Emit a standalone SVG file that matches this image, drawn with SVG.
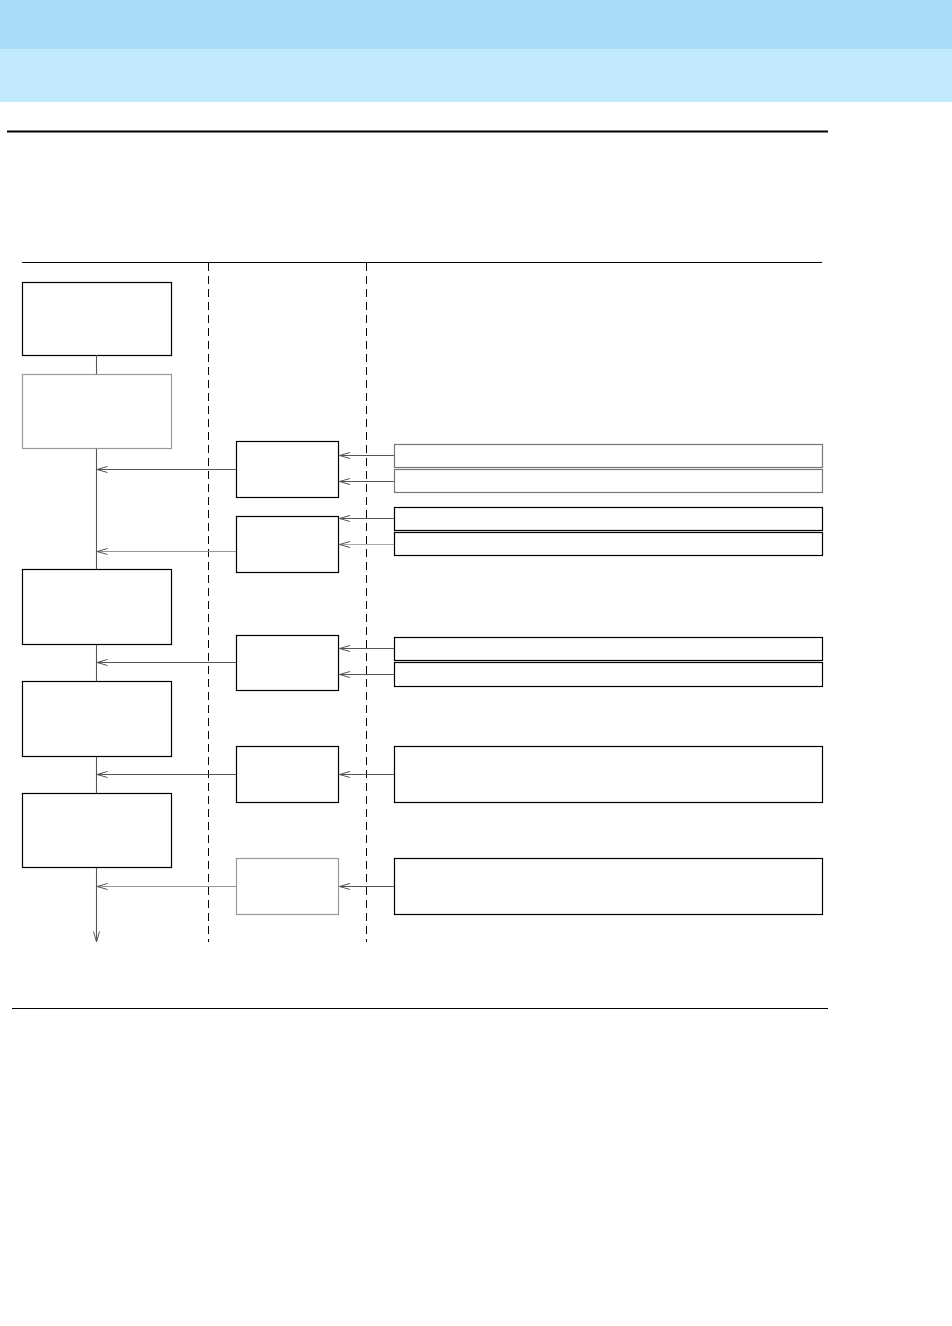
<svg xmlns="http://www.w3.org/2000/svg" width="952" height="1326" viewBox="0 0 952 1326">
<style>
.box{fill:#fff;stroke:#000;stroke-width:1.2}
.gbox{fill:#fff;stroke:#999;stroke-width:1.2}
.c{fill:none;stroke:#555;stroke-width:1.1}
.dash{fill:none;stroke:#000;stroke-width:1;stroke-dasharray:8,5}
</style>
<defs>
<marker id="ah" markerWidth="12" markerHeight="8" refX="11" refY="4" orient="auto" markerUnits="userSpaceOnUse">
<path d="M0.5,1 L11,4 L0.5,7" fill="none" stroke="#555" stroke-width="1"/>
</marker>
</defs>
<rect x="0" y="0" width="952" height="49" fill="#a8dcf8"/>
<rect x="0" y="49" width="952" height="53" fill="#c2eafe"/>
<line x1="7" y1="131.5" x2="828" y2="131.5" stroke="#000" stroke-width="2"/>
<line x1="12" y1="1008.5" x2="828" y2="1008.5" stroke="#000" stroke-width="1"/>
<line x1="22" y1="262.5" x2="822" y2="262.5" stroke="#000" stroke-width="1"/>
<line class="dash" x1="208.5" y1="263" x2="208.5" y2="942"/>
<line class="dash" x1="366.5" y1="263" x2="366.5" y2="942"/>
<g id="l1"><rect class="box" x="22.5" y="282.5" width="149" height="73"/></g>
<g id="l2"><rect class="gbox" x="22.5" y="374.5" width="149" height="74"/></g>
<g id="l3"><rect class="box" x="22.5" y="569.5" width="149" height="75"/></g>
<g id="l4"><rect class="box" x="22.5" y="681.5" width="149" height="75"/></g>
<g id="l5"><rect class="box" x="22.5" y="793.5" width="149" height="74"/></g>
<g id="m1"><rect class="box" x="236.5" y="441.5" width="102" height="56"/></g>
<g id="m2"><rect class="box" x="236.5" y="516.5" width="102" height="56"/></g>
<g id="m3"><rect class="box" x="236.5" y="635.5" width="102" height="55"/></g>
<g id="m4"><rect class="box" x="236.5" y="746.5" width="102" height="56"/></g>
<g id="m5"><rect class="gbox" x="236.5" y="858.5" width="102" height="56"/></g>
<g id="r1"><rect class="gbox" x="394.5" y="444.5" width="428" height="23" style="stroke:#777"/></g>
<g id="r2"><rect class="gbox" x="394.5" y="469.5" width="428" height="23" style="stroke:#777"/></g>
<g id="r3"><rect class="box" x="394.5" y="507.5" width="428" height="23"/></g>
<g id="r4"><rect class="box" x="394.5" y="532.5" width="428" height="23"/></g>
<g id="r5"><rect class="box" x="394.5" y="637.5" width="428" height="23"/></g>
<g id="r6"><rect class="box" x="394.5" y="662.5" width="428" height="24"/></g>
<g id="r7"><rect class="box" x="394.5" y="746.5" width="428" height="56"/></g>
<g id="r8"><rect class="box" x="394.5" y="858.5" width="428" height="56"/></g>
<g id="connectors">
<line class="c" x1="96.5" y1="355" x2="96.5" y2="374"/>
<line class="c" x1="96.5" y1="449" x2="96.5" y2="569"/>
<line class="c" x1="96.5" y1="645" x2="96.5" y2="681"/>
<line class="c" x1="96.5" y1="757" x2="96.5" y2="793"/>
<line class="c" x1="96.5" y1="868" x2="96.5" y2="942" marker-end="url(#ah)"/>
<line class="c" x1="236" y1="469.5" x2="97" y2="469.5" marker-end="url(#ah)"/>
<line class="c" x1="236" y1="551.5" x2="97" y2="551.5" marker-end="url(#ah)" style="stroke:#999"/>
<line class="c" x1="236" y1="662.5" x2="97" y2="662.5" marker-end="url(#ah)"/>
<line class="c" x1="236" y1="774.5" x2="97" y2="774.5" marker-end="url(#ah)"/>
<line class="c" x1="236" y1="886.5" x2="97" y2="886.5" marker-end="url(#ah)" style="stroke:#999"/>
<line class="c" x1="394" y1="455.5" x2="339.5" y2="455.5" marker-end="url(#ah)"/>
<line class="c" x1="394" y1="481.5" x2="339.5" y2="481.5" marker-end="url(#ah)"/>
<line class="c" x1="394" y1="518.5" x2="339.5" y2="518.5" marker-end="url(#ah)"/>
<line class="c" x1="394" y1="544.5" x2="339.5" y2="544.5" marker-end="url(#ah)" style="stroke:#aaa"/>
<line class="c" x1="394" y1="648.5" x2="339.5" y2="648.5" marker-end="url(#ah)"/>
<line class="c" x1="394" y1="674.5" x2="339.5" y2="674.5" marker-end="url(#ah)"/>
<line class="c" x1="394" y1="774.5" x2="339.5" y2="774.5" marker-end="url(#ah)"/>
<line class="c" x1="394" y1="886.5" x2="339.5" y2="886.5" marker-end="url(#ah)"/>
</g>
</svg>
